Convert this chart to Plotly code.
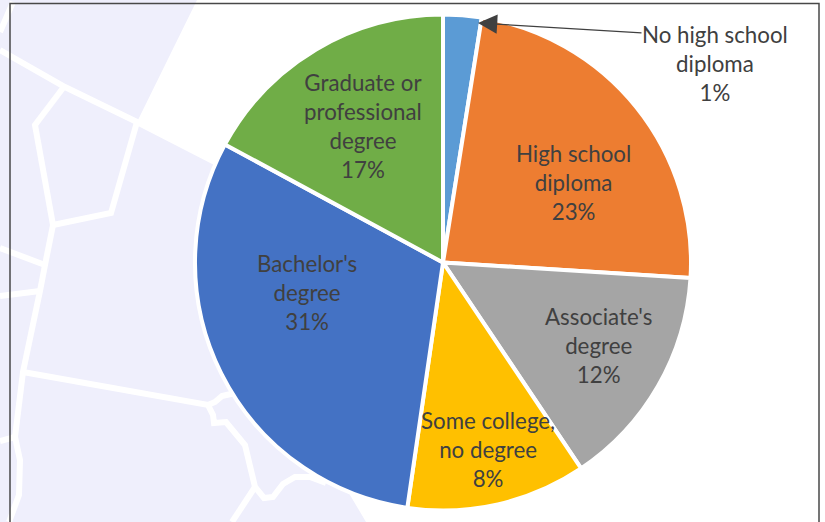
import plotly.graph_objects as go

W, H = 825, 522
categories = ["No high school diploma", "High school diploma", "Associate's degree",
              "Some college, no degree", "Bachelor's degree", "Graduate or professional degree"]
shares = [2.5, 23.5, 14.6, 11.7, 30.6, 17.1]
pct_labels = ["1%", "23%", "12%", "8%", "31%", "17%"]
label_lines = [["No high school", "diploma"], ["High school", "diploma"], ["Associate's", "degree"],
               ["Some college,", "no degree"], ["Bachelor's", "degree"], ["Graduate or", "professional", "degree"]]
label_pos = [(715, 63), (573, 182), (598, 345.5), (488, 449), (307, 292.5), (363, 126)]
colors = ["#5B9BD5", "#ED7D31", "#A5A5A5", "#FFC000", "#4472C4", "#70AD47"]

map_fill = [(0, 0), (197, 0), (138, 120), (216, 160), (300, 300), (350, 495), (366, 522), (0, 522)]
map_lines = [
    [(0, 50), (65, 87), (137, 122), (215, 162)],
    [(0, 32), (13, 2)],
    [(63, 88), (35, 125), (53, 225), (45, 265), (40, 291), (23, 372), (15, 437), (20, 460), (19, 495), (9, 522)],
    [(137, 122), (111, 213), (53, 225)],
    [(0, 248), (45, 265)],
    [(0, 296), (40, 291)],
    [(0, 441), (15, 437)],
    [(23, 372), (208, 405), (215, 402), (222, 396), (235, 393)],
    [(208, 405), (213, 415), (214, 423), (226, 422), (245, 445), (255, 487), (264, 498), (273, 497),
     (283, 484), (295, 477), (310, 477), (326, 483)],
    [(255, 487), (232, 522)],
]


def px(x):
    return x / W


def py(y):
    return 1 - y / H


def path(pts, close=False):
    s = "M" + " L".join(f"{px(x):.5f},{py(y):.5f}" for x, y in pts)
    return s + (" Z" if close else "")


shapes = [dict(type="path", path=path(map_fill, True), xref="paper", yref="paper",
               fillcolor="#EFEFFC", line=dict(width=0), layer="below")]
for ln in map_lines:
    shapes.append(dict(type="path", path=path(ln), xref="paper", yref="paper",
                       line=dict(color="white", width=6), layer="below"))
shapes.append(dict(type="rect", x0=px(10), x1=px(819), y0=py(3.5), y1=py(540), xref="paper", yref="paper",
                   line=dict(color="#484848", width=1.5), layer="below"))

annotations = []
for lines, pct, (x, y) in zip(label_lines, pct_labels, label_pos):
    annotations.append(dict(text="<br>".join(lines + [pct]), x=px(x), y=py(y), xref="paper", yref="paper",
                            xanchor="center", yanchor="middle", showarrow=False, align="center",
                            font=dict(family="Lato", size=22.3, color="#404040")))
annotations.append(dict(text="", x=px(478), y=py(23), ax=165, ay=10, xref="paper", yref="paper",
                        axref="pixel", ayref="pixel", showarrow=True, arrowhead=2, arrowsize=3.2,
                        arrowwidth=1.2, arrowcolor="#404040"))

cx, cy, r = 443, 262.5, 248
fig = go.Figure(go.Pie(labels=categories, values=shares, sort=False, direction="clockwise", rotation=0,
                       textinfo="none", hoverinfo="label+percent",
                       marker=dict(colors=colors, line=dict(color="white", width=4)),
                       domain=dict(x=[px(cx - r), px(cx + r)], y=[py(cy + r), py(cy - r)]),
                       showlegend=False))
fig.update_layout(width=W, height=H, margin=dict(l=0, r=0, t=0, b=0), paper_bgcolor="white",
                  plot_bgcolor="white", shapes=shapes, annotations=annotations, showlegend=False)
fig.write_html("out.html", config=dict(displayModeBar=False),
               post_script="document.body.style.margin='0';document.body.style.overflow='hidden';")
